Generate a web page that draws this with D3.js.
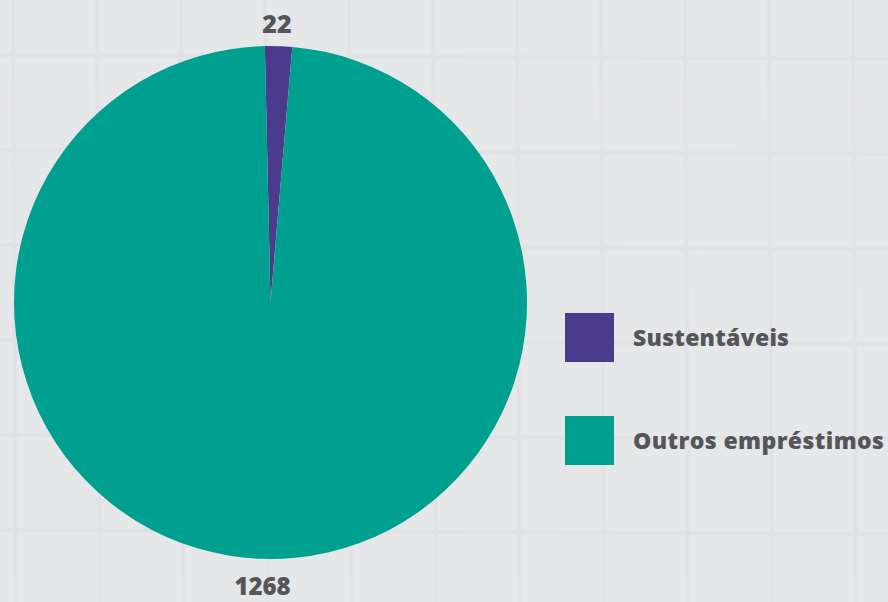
<!DOCTYPE html>
<html>
<head>
<meta charset="utf-8">
<script src="https://cdn.jsdelivr.net/npm/d3@7"></script>
<style>
  html, body { margin: 0; padding: 0; background: #e6e7e9; }
  svg { display: block; }
</style>
</head>
<body>
<svg id="chart" width="888" height="602"></svg>
<script>
const categories = ["Sustentáveis", "Outros empréstimos"];
const values = [22, 1268];
const colors = ["#4a3b8c", "#00a091"];

const W = 888, H = 602;
const svg = d3.select("#chart");

// background with faint grid-paper texture
svg.append("rect").attr("width", W).attr("height", H).attr("fill", "#e6e7e9");
const grid = svg.append("g").attr("stroke", "#dfe0e3").attr("stroke-width", 4).attr("opacity", 0.6);
d3.range(13, W, 84).forEach(x => grid.append("line").attr("x1", x).attr("x2", x + 3).attr("y1", 0).attr("y2", H));
d3.range(55, H, 95).forEach(y => grid.append("line").attr("x1", 0).attr("x2", W).attr("y1", y).attr("y2", y + 4));

const cx = 270.5, cy = 302.5, r = 256.5;
const start = -0.022;
const pie = d3.pie().sort(null).startAngle(start).endAngle(start + 2 * Math.PI);
const arcs = pie(values);
const arc = d3.arc().innerRadius(0).outerRadius(r);

const g = svg.append("g").attr("transform", `translate(${cx},${cy})`);
g.selectAll("path").data(arcs).enter().append("path")
  .attr("d", arc)
  .attr("fill", (d, i) => colors[i]);

// value labels
const labelFont = "'Open Sans', Lato, sans-serif";
svg.append("text").attr("x", 277).attr("y", 33)
  .attr("text-anchor", "middle").attr("font-family", labelFont)
  .attr("font-weight", 800).attr("font-size", 25).attr("fill", "#555659")
  .text(values[0]);
svg.append("text").attr("x", 262.5).attr("y", 595)
  .attr("text-anchor", "middle").attr("font-family", labelFont)
  .attr("font-weight", 800).attr("font-size", 24).attr("fill", "#555659")
  .text(values[1]);

// legend
const legend = svg.append("g");
const ly = [313, 416];
const lw = [156, 251];
categories.forEach((c, i) => {
  legend.append("rect").attr("x", 565).attr("y", ly[i]).attr("width", 49).attr("height", 49).attr("fill", colors[i]);
  legend.append("text").attr("x", 633).attr("y", ly[i] + 33)
    .attr("font-family", labelFont).attr("font-weight", 800).attr("font-size", 23)
    .attr("textLength", lw[i]).attr("lengthAdjust", "spacing")
    .attr("fill", "#555659").text(c);
});
</script>
</body>
</html>
